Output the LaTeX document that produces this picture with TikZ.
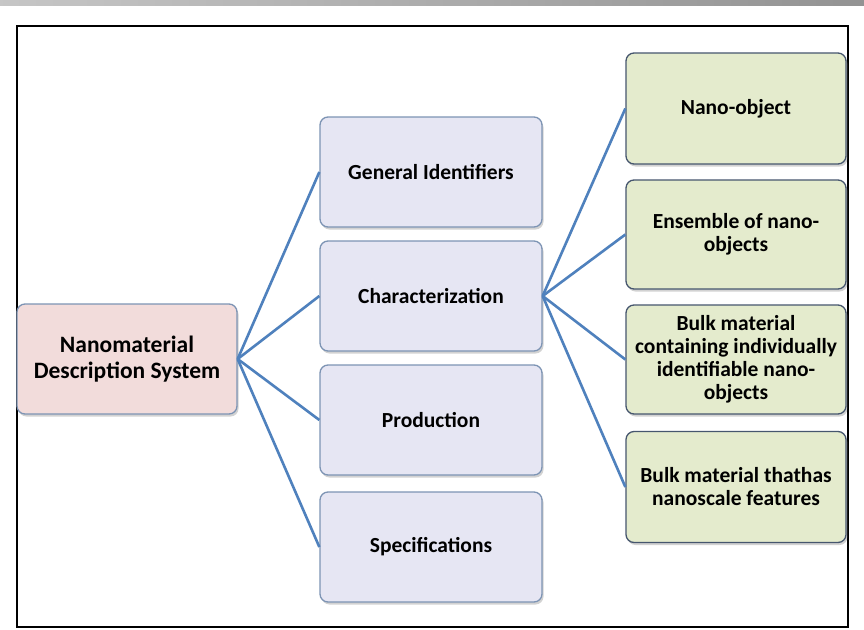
\documentclass[tikz,border=0pt]{standalone}
\usepackage{fontspec}
\setmainfont{Carlito}
\usetikzlibrary{shadows}
\definecolor{linkblue}{HTML}{4F81BD}
\definecolor{rootfill}{HTML}{F2DCDB}
\definecolor{midfill}{HTML}{E6E6F3}
\definecolor{leaffill}{HTML}{E4EBCD}
\definecolor{midborder}{HTML}{7D94B4}
\definecolor{leafborder}{HTML}{46566E}
\tikzset{
  boxbase/.style={rectangle, rounded corners=8pt, line width=1.3pt, align=center,
    inner sep=0pt, font=\bfseries,
    drop shadow={shadow xshift=1.5pt, shadow yshift=-2.5pt, opacity=0.35}},
  rootbox/.style={boxbase, fill=rootfill, draw=midborder, minimum width=220pt, minimum height=110pt,
    font=\bfseries\fontsize{23.5}{26}\selectfont},
  midbox/.style={boxbase, fill=midfill, draw=midborder, minimum width=222pt, minimum height=110pt,
    font=\bfseries\fontsize{21.5}{23}\selectfont},
  leafbox/.style={boxbase, fill=leaffill, draw=leafborder, minimum width=220pt, minimum height=110pt,
    font=\bfseries\fontsize{21.5}{23}\selectfont},
  link/.style={draw=linkblue, line width=2.6pt}
}
\begin{document}
\begin{tikzpicture}[x=1pt,y=-1pt]
\useasboundingbox (0,0) rectangle (864,629);
\fill[white] (0,0) rectangle (864,629);
\shade[left color=gray!45, right color=gray!85] (0,0) rectangle (864,5);
\draw[black, line width=1.8pt] (17,26) rectangle (848,627);

\node[rootbox] (root) at (127,359) {Nanomaterial\\Description System};
\node[midbox] (gi) at (431,172) {General Identifiers};
\node[midbox] (ch) at (431,296) {Characterization};
\node[midbox] (pr) at (431,420) {Production};
\node[midbox] (sp) at (431,547) {Specifications};

\node[leafbox, minimum height=111pt] (n1) at (736,108.5) {Nano-object};
\node[leafbox, minimum height=109pt] (n2) at (736,234.5) {Ensemble of nano-\\objects};
\node[leafbox, minimum height=109pt] (n3) at (736,359.5) {Bulk material\\containing individually\\identifiable nano-\\objects};
\node[leafbox, minimum height=111pt] (n4) at (736,487) {Bulk material thathas\\nanoscale features};

\foreach \t in {gi,ch,pr,sp} \draw[link] (root.east) -- (\t.west);
\foreach \t in {n1,n2,n3,n4} \draw[link] (ch.east) -- (\t.west);
\end{tikzpicture}
\end{document}
